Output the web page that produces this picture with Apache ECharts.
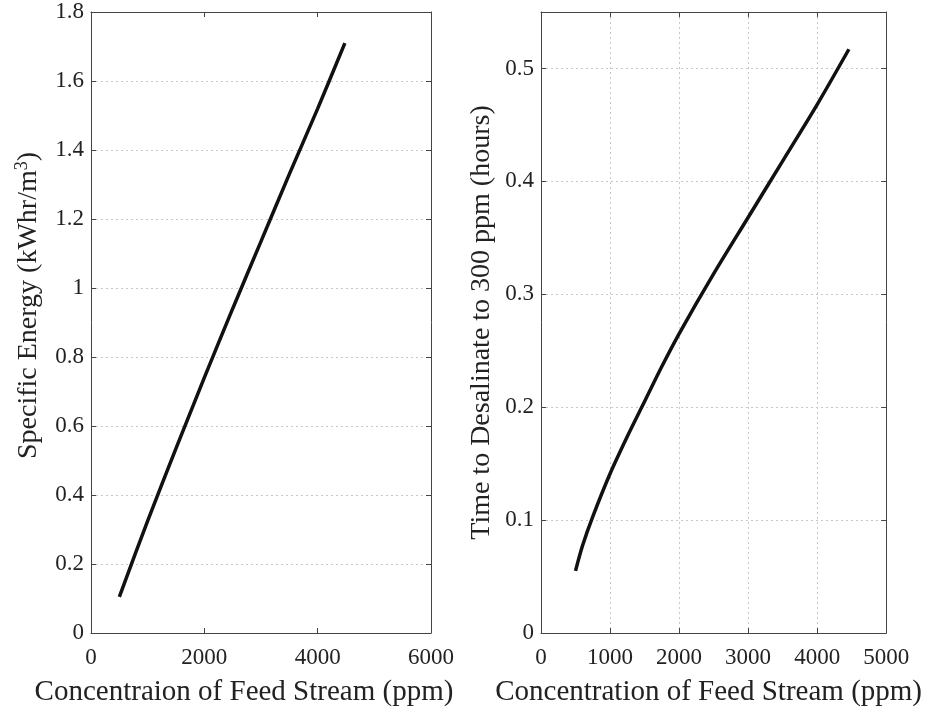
<!DOCTYPE html>
<html>
<head>
<meta charset="utf-8">
<script src="https://cdn.jsdelivr.net/npm/echarts@6/dist/echarts.min.js"></script>
<style>
  html, body { margin: 0; padding: 0; background: #fff; }
  #chart { width: 925px; height: 717px; }
</style>
</head>
<body>
<div id="chart"></div>
<script>
// left panel: specific energy vs feed concentration
const leftConc = [500, 1000, 1500, 2000, 2500, 3000, 3500, 4000, 4480];
const leftEnergy = [0.105, 0.325, 0.535, 0.74, 0.94, 1.135, 1.33, 1.52, 1.71];

// right panel: time to desalinate vs feed concentration
const rightConc = [500, 600, 750, 1000, 1250, 1500, 1750, 2000, 2500, 3000, 3500, 4000, 4460];
const rightTime = [0.055, 0.077, 0.103, 0.141, 0.174, 0.205, 0.236, 0.265, 0.318, 0.368, 0.418, 0.468, 0.517];

const leftXTicks = { min: 0, max: 6000, interval: 2000 };
const leftYTicks = { min: 0, max: 1.8, interval: 0.2 };
const rightXTicks = { min: 0, max: 5000, interval: 1000 };
const rightYTicks = { min: 0, max: 0.55, interval: 0.1 };

const chart = echarts.init(document.getElementById('chart'));
const fontFamily = '"Liberation Serif", "DejaVu Serif", serif';
const textColor = '#222';
const axisColor = '#444';
const gridLineColor = '#c8c8c8';

const pairs = (xs, ys) => xs.map((x, i) => [x, ys[i]]);

const mainAxis = (gridIndex, ticks, opts) => ({
  type: 'value',
  gridIndex: gridIndex,
  min: ticks.min,
  max: ticks.max,
  interval: ticks.interval,
  axisLine: { show: true, onZero: false, lineStyle: { color: axisColor, width: 1 } },
  axisTick: { show: true, inside: true, length: 5, lineStyle: { color: axisColor } },
  axisLabel: {
    color: textColor, fontFamily: fontFamily, fontSize: 23,
    margin: opts.margin, showMaxLabel: opts.showMax,
    formatter: v => String(+v.toFixed(2))
  },
  splitLine: { show: opts.grid, lineStyle: { color: gridLineColor, type: [2, 3], width: 1 } },
  name: opts.name,
  nameLocation: 'middle',
  nameGap: opts.nameGap,
  nameTextStyle: Object.assign({
    color: textColor, fontFamily: fontFamily, fontSize: 29
  }, opts.nameStyle || {})
});

const mirrorAxis = (gridIndex, ticks, position) => ({
  type: 'value',
  gridIndex: gridIndex,
  position: position,
  min: ticks.min,
  max: ticks.max,
  interval: ticks.interval,
  axisLine: { show: true, onZero: false, lineStyle: { color: axisColor, width: 1 } },
  axisTick: { show: true, inside: true, length: 5, lineStyle: { color: axisColor } },
  axisLabel: { show: false },
  splitLine: { show: false }
});

const option = {
  animation: false,
  backgroundColor: '#fff',
  grid: [
    { left: 91, top: 12, width: 340, height: 621 },
    { left: 541, top: 12, width: 346, height: 621 }
  ],
  xAxis: [
    mainAxis(0, leftXTicks, {
      margin: 13, showMax: true, grid: false,
      name: 'Concentraion of Feed Stream (ppm)', nameGap: 45,
      nameStyle: { padding: [0, 34, 0, 0] }
    }),
    mainAxis(1, rightXTicks, {
      margin: 13, showMax: true, grid: true,
      name: 'Concentration of Feed Stream (ppm)', nameGap: 45,
      nameStyle: { padding: [0, 10, 0, 0] }
    }),
    mirrorAxis(0, leftXTicks, 'top'),
    mirrorAxis(1, rightXTicks, 'top')
  ],
  yAxis: [
    mainAxis(0, leftYTicks, {
      margin: 7, showMax: true, grid: true,
      name: 'Specific Energy (kWhr/m{sup|3})', nameGap: 46,
      nameStyle: {
        fontSize: 28,
        padding: [0, 0, 0, 34],
        rich: { sup: { fontSize: 18, verticalAlign: 'top', padding: [0, 0, 14, 0], fontFamily: fontFamily, color: textColor } }
      }
    }),
    mainAxis(1, rightYTicks, {
      margin: 7, showMax: false, grid: true,
      name: 'Time to Desalinate to 300 ppm (hours)', nameGap: 45,
      nameStyle: { fontSize: 28 }
    }),
    mirrorAxis(0, leftYTicks, 'right'),
    mirrorAxis(1, rightYTicks, 'right')
  ],
  series: [
    {
      type: 'line',
      xAxisIndex: 0,
      yAxisIndex: 0,
      data: pairs(leftConc, leftEnergy),
      smooth: 0.3,
      showSymbol: false,
      lineStyle: { color: '#111', width: 3.5 }
    },
    {
      type: 'line',
      xAxisIndex: 1,
      yAxisIndex: 1,
      data: pairs(rightConc, rightTime),
      smooth: 0.3,
      showSymbol: false,
      lineStyle: { color: '#111', width: 3.5 }
    }
  ]
};

chart.setOption(option);
</script>
</body>
</html>
